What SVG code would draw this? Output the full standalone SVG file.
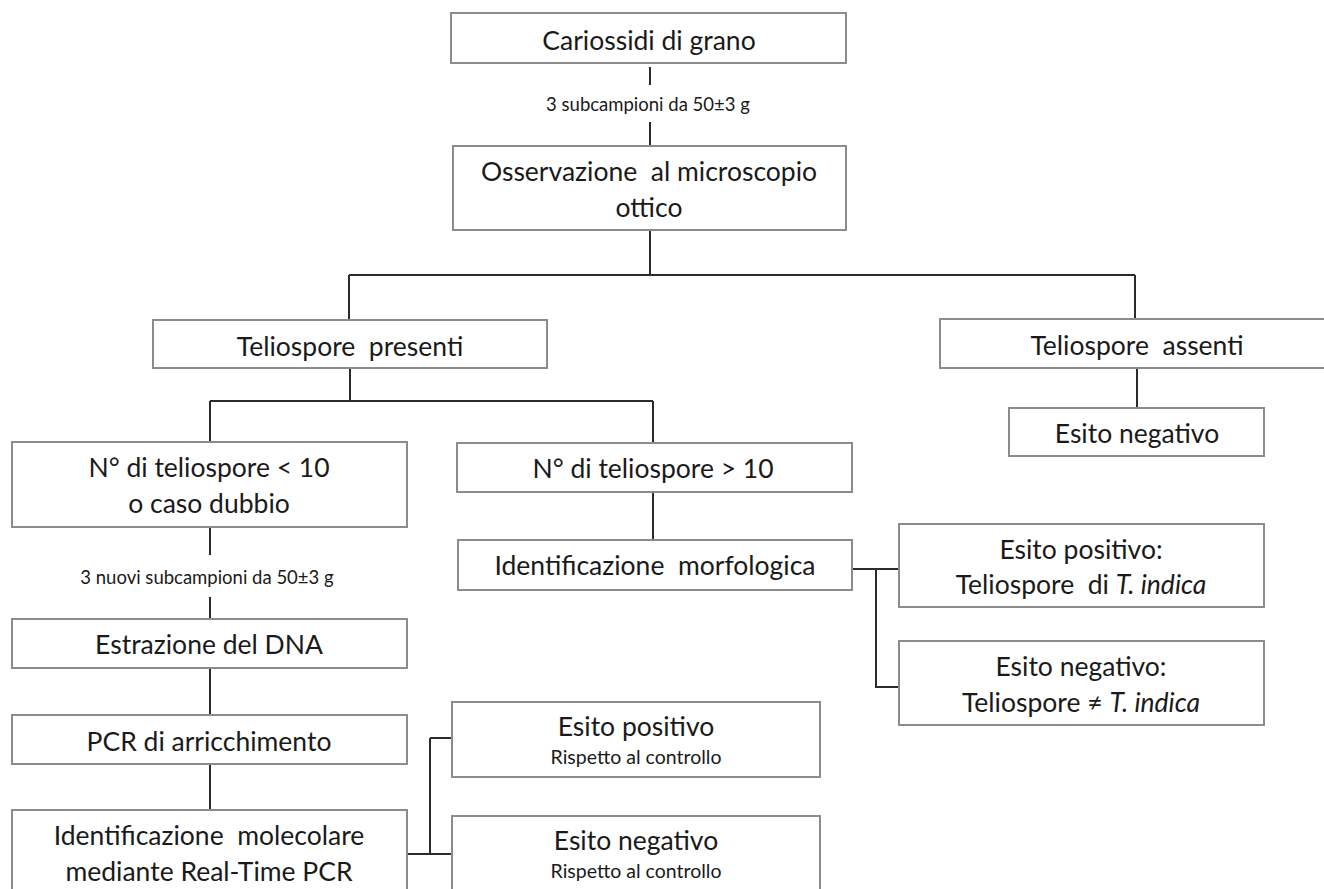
<svg xmlns="http://www.w3.org/2000/svg" width="1324" height="889" viewBox="0 0 1324 889">
<style>
.box{fill:#fff;stroke:#8c8c8c;stroke-width:2}
.t{font-family:Lato,"Open Sans","Liberation Sans",sans-serif;font-size:26.5px;fill:#1a1a1a;text-anchor:middle;white-space:pre}
.s{font-family:Lato,"Open Sans","Liberation Sans",sans-serif;font-size:18.5px;fill:#1a1a1a;text-anchor:middle;white-space:pre}
.r{font-family:Lato,"Open Sans","Liberation Sans",sans-serif;font-size:19.5px;fill:#1a1a1a;text-anchor:middle}
.c{fill:none;stroke:#2b2b2b;stroke-width:2}
</style>
<rect width="1324" height="889" fill="#fff"/>
<g id="connectors">
<path class="c" d="M650 67V85M650 122V146"/>
<path class="c" d="M650 230V275M349 275H1135M349 275V320M1135 275V320"/>
<path class="c" d="M350 368V401M210 401H653M210 401V442M653 401V443"/>
<path class="c" d="M1137 368V408"/>
<path class="c" d="M653 492V540"/>
<path class="c" d="M852 569H899M876 569V687H899"/>
<path class="c" d="M210 527V555M210 597V620"/>
<path class="c" d="M210 668V715M210 764V810"/>
<path class="c" d="M407 854H453M430 738V854M430 738H453"/>
<text class="s" x="648" y="111">3 subcampioni da 50±3 g</text>
<text class="s" x="207" y="584">3 nuovi subcampioni da 50±3 g</text>
</g>
<g id="n1"><rect class="box" x="451" y="13" width="395" height="50"/><text class="t" x="649" y="50">Cariossidi di grano</text></g>
<g id="n2"><rect class="box" x="453" y="146" width="393" height="84"/><text class="t" x="649" y="181">Osservazione  al microscopio</text><text class="t" x="649" y="217">ottico</text></g>
<g id="n3"><rect class="box" x="153" y="320" width="394" height="48"/><text class="t" x="350" y="356">Teliospore  presenti</text></g>
<g id="n4"><rect class="box" x="940" y="319" width="400" height="49"/><text class="t" x="1137" y="355">Teliospore  assenti</text></g>
<g id="n5"><rect class="box" x="1009" y="408" width="255" height="48"/><text class="t" x="1137" y="443">Esito negativo</text></g>
<g id="n6"><rect class="box" x="12" y="442" width="395" height="85"/><text class="t" x="209" y="477">N° di teliospore &lt; 10</text><text class="t" x="209" y="513">o caso dubbio</text></g>
<g id="n7"><rect class="box" x="457" y="443" width="395" height="49"/><text class="t" x="653" y="478">N° di teliospore &gt; 10</text></g>
<g id="n8"><rect class="box" x="458" y="540" width="394" height="50"/><text class="t" x="655" y="575">Identificazione  morfologica</text></g>
<g id="n9"><rect class="box" x="899" y="524" width="365" height="83"/><text class="t" x="1081" y="559">Esito positivo:</text><text class="t" x="1081" y="594">Teliospore  di <tspan font-style="italic">T. indica</tspan></text></g>
<g id="n10"><rect class="box" x="899" y="641" width="365" height="84"/><text class="t" x="1081" y="676">Esito negativo:</text><text class="t" x="1081" y="712">Teliospore ≠ <tspan font-style="italic">T. indica</tspan></text></g>
<g id="n11"><rect class="box" x="12" y="619" width="395" height="49"/><text class="t" x="209" y="654">Estrazione del DNA</text></g>
<g id="n12"><rect class="box" x="12" y="715" width="395" height="49"/><text class="t" x="209" y="751">PCR di arricchimento</text></g>
<g id="n13"><rect class="box" x="12" y="810" width="395" height="95"/><text class="t" x="209" y="845">Identificazione  molecolare</text><text class="t" x="209" y="881">mediante Real-Time PCR</text></g>
<g id="n14"><rect class="box" x="452" y="702" width="368" height="75"/><text class="t" x="636" y="736">Esito positivo</text><text class="r" x="636" y="764">Rispetto al controllo</text></g>
<g id="n15"><rect class="box" x="452" y="816" width="368" height="90"/><text class="t" x="636" y="850">Esito negativo</text><text class="r" x="636" y="878">Rispetto al controllo</text></g>
</svg>
